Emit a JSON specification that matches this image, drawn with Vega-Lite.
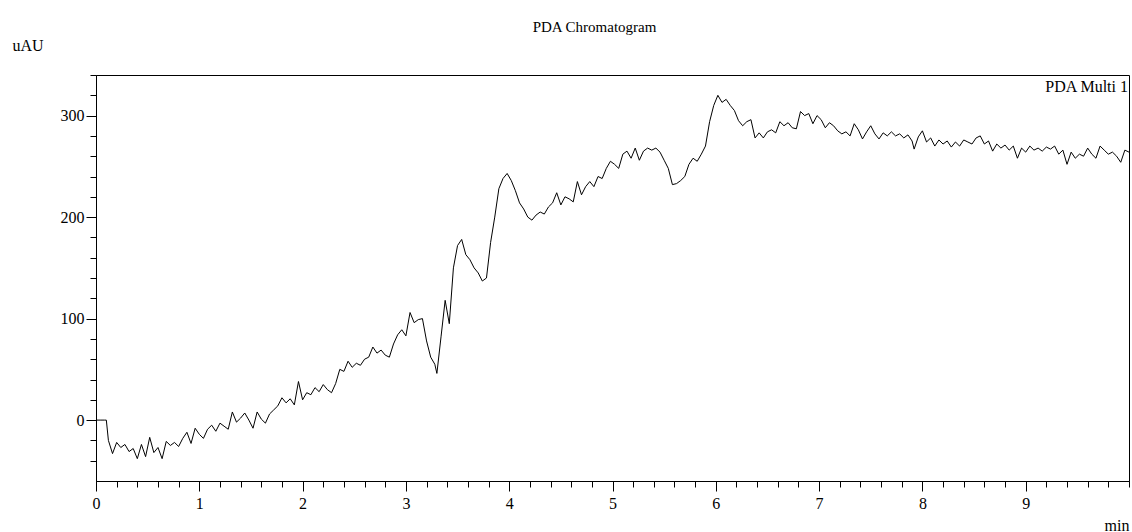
{
  "$schema": "https://vega.github.io/schema/vega-lite/v6.json",
  "width": 1033,
  "height": 406,
  "autosize": {"type": "none"},
  "padding": {"left": 96, "top": 75, "right": 3, "bottom": 51},
  "background": "white",
  "title": {"text": "PDA Chromatogram", "anchor": "middle", "offset": 2, "dx": -18, "font": "Liberation Serif, 'Times New Roman', serif", "fontSize": 15, "fontWeight": "normal", "color": "black"},
  "config": {
    "title": {"font": "Liberation Serif, 'Times New Roman', serif", "fontSize": 15, "fontWeight": "normal", "color": "black"},
    "style": {"group-title": {"font": "Liberation Serif, 'Times New Roman', serif", "fontWeight": "normal"}},
    "view": {"stroke": "black", "strokeWidth": 1},
    "axis": {"grid": false, "domainColor": "black", "tickColor": "black", "labelColor": "black", "titleColor": "black", "labelFont": "Liberation Serif", "titleFont": "Liberation Serif", "labelFontSize": 16, "titleFontSize": 16, "titleFontWeight": "normal"}
  },
  "layer": [
    {
      "data": {"values": [
        {"t":0,"v":0},{"t":0.04,"v":0},{"t":0.08,"v":0},{"t":0.1,"v":0},{"t":0.12,"v":-20},{"t":0.16,"v":-33},{"t":0.2,"v":-22},{"t":0.24,"v":-27},{"t":0.28,"v":-24},{"t":0.32,"v":-31},{"t":0.36,"v":-28},{"t":0.4,"v":-38},{"t":0.44,"v":-24},{"t":0.48,"v":-36},{"t":0.52,"v":-17},{"t":0.56,"v":-32},{"t":0.6,"v":-27},{"t":0.64,"v":-38},{"t":0.68,"v":-21},{"t":0.72,"v":-25},{"t":0.76,"v":-22},{"t":0.8,"v":-26},{"t":0.84,"v":-18},{"t":0.88,"v":-12},{"t":0.92,"v":-23},{"t":0.96,"v":-8},
        {"t":1,"v":-14},{"t":1.04,"v":-18},{"t":1.08,"v":-9},{"t":1.12,"v":-5},{"t":1.16,"v":-11},{"t":1.2,"v":-3},{"t":1.24,"v":-6},{"t":1.28,"v":-9},{"t":1.32,"v":8},{"t":1.36,"v":-2},{"t":1.4,"v":2},{"t":1.44,"v":7},{"t":1.48,"v":0},{"t":1.52,"v":-8},{"t":1.56,"v":8},{"t":1.6,"v":1},{"t":1.64,"v":-3},{"t":1.68,"v":6},{"t":1.72,"v":10},{"t":1.76,"v":14},{"t":1.8,"v":22},{"t":1.84,"v":17},{"t":1.88,"v":21},{"t":1.92,"v":15},{"t":1.96,"v":38},
        {"t":2,"v":20},{"t":2.04,"v":27},{"t":2.08,"v":25},{"t":2.12,"v":32},{"t":2.16,"v":28},{"t":2.2,"v":35},{"t":2.24,"v":30},{"t":2.28,"v":27},{"t":2.32,"v":36},{"t":2.36,"v":50},{"t":2.4,"v":48},{"t":2.44,"v":58},{"t":2.48,"v":52},{"t":2.52,"v":56},{"t":2.56,"v":54},{"t":2.6,"v":60},{"t":2.64,"v":62},{"t":2.68,"v":72},{"t":2.72,"v":66},{"t":2.76,"v":69},{"t":2.8,"v":64},{"t":2.84,"v":62},{"t":2.88,"v":75},{"t":2.92,"v":84},{"t":2.96,"v":89},
        {"t":3,"v":83},{"t":3.04,"v":106},{"t":3.08,"v":96},{"t":3.12,"v":99},{"t":3.16,"v":100},{"t":3.2,"v":78},{"t":3.24,"v":62},{"t":3.28,"v":55},{"t":3.3,"v":46},{"t":3.34,"v":82},{"t":3.38,"v":118},{"t":3.42,"v":95},{"t":3.46,"v":150},{"t":3.5,"v":172},{"t":3.54,"v":178},{"t":3.58,"v":163},{"t":3.62,"v":158},{"t":3.66,"v":150},{"t":3.7,"v":145},{"t":3.74,"v":137},{"t":3.78,"v":140},{"t":3.82,"v":175},{"t":3.86,"v":200},{"t":3.9,"v":228},{"t":3.94,"v":238},{"t":3.98,"v":243},
        {"t":4.02,"v":236},{"t":4.06,"v":226},{"t":4.1,"v":214},{"t":4.14,"v":208},{"t":4.18,"v":200},{"t":4.22,"v":197},{"t":4.26,"v":202},{"t":4.3,"v":205},{"t":4.34,"v":203},{"t":4.38,"v":210},{"t":4.42,"v":214},{"t":4.46,"v":224},{"t":4.5,"v":212},{"t":4.54,"v":220},{"t":4.58,"v":218},{"t":4.62,"v":215},{"t":4.66,"v":235},{"t":4.7,"v":222},{"t":4.74,"v":230},{"t":4.78,"v":235},{"t":4.82,"v":230},{"t":4.86,"v":240},{"t":4.9,"v":238},{"t":4.94,"v":248},{"t":4.98,"v":255},
        {"t":5.02,"v":252},{"t":5.06,"v":248},{"t":5.1,"v":262},{"t":5.14,"v":265},{"t":5.18,"v":258},{"t":5.22,"v":268},{"t":5.26,"v":256},{"t":5.3,"v":265},{"t":5.34,"v":268},{"t":5.38,"v":266},{"t":5.42,"v":268},{"t":5.46,"v":264},{"t":5.5,"v":256},{"t":5.54,"v":248},{"t":5.58,"v":232},{"t":5.62,"v":233},{"t":5.66,"v":236},{"t":5.7,"v":240},{"t":5.74,"v":252},{"t":5.78,"v":258},{"t":5.82,"v":255},{"t":5.86,"v":262},{"t":5.9,"v":270},{"t":5.94,"v":294},{"t":5.98,"v":310},
        {"t":6.02,"v":320},{"t":6.06,"v":313},{"t":6.1,"v":316},{"t":6.14,"v":310},{"t":6.18,"v":305},{"t":6.22,"v":295},{"t":6.26,"v":290},{"t":6.3,"v":294},{"t":6.34,"v":296},{"t":6.38,"v":278},{"t":6.42,"v":283},{"t":6.46,"v":278},{"t":6.5,"v":284},{"t":6.54,"v":286},{"t":6.58,"v":283},{"t":6.62,"v":294},{"t":6.66,"v":290},{"t":6.7,"v":293},{"t":6.74,"v":288},{"t":6.78,"v":287},{"t":6.82,"v":304},{"t":6.86,"v":300},{"t":6.9,"v":302},{"t":6.94,"v":292},{"t":6.98,"v":300},
        {"t":7.02,"v":296},{"t":7.06,"v":288},{"t":7.1,"v":293},{"t":7.14,"v":290},{"t":7.18,"v":285},{"t":7.22,"v":282},{"t":7.26,"v":284},{"t":7.3,"v":280},{"t":7.34,"v":292},{"t":7.38,"v":286},{"t":7.42,"v":277},{"t":7.46,"v":284},{"t":7.5,"v":290},{"t":7.54,"v":282},{"t":7.58,"v":277},{"t":7.62,"v":283},{"t":7.66,"v":280},{"t":7.7,"v":284},{"t":7.74,"v":280},{"t":7.78,"v":282},{"t":7.82,"v":278},{"t":7.86,"v":281},{"t":7.9,"v":275},{"t":7.92,"v":267},{"t":7.96,"v":279},
        {"t":8,"v":285},{"t":8.04,"v":274},{"t":8.08,"v":278},{"t":8.12,"v":270},{"t":8.16,"v":276},{"t":8.2,"v":272},{"t":8.24,"v":275},{"t":8.28,"v":269},{"t":8.32,"v":274},{"t":8.36,"v":270},{"t":8.4,"v":276},{"t":8.44,"v":274},{"t":8.48,"v":272},{"t":8.52,"v":278},{"t":8.56,"v":280},{"t":8.6,"v":272},{"t":8.64,"v":275},{"t":8.68,"v":265},{"t":8.72,"v":272},{"t":8.76,"v":268},{"t":8.8,"v":271},{"t":8.84,"v":266},{"t":8.88,"v":270},{"t":8.92,"v":258},{"t":8.96,"v":268},
        {"t":9,"v":264},{"t":9.04,"v":270},{"t":9.08,"v":266},{"t":9.12,"v":268},{"t":9.16,"v":265},{"t":9.2,"v":269},{"t":9.24,"v":267},{"t":9.28,"v":270},{"t":9.32,"v":262},{"t":9.36,"v":266},{"t":9.4,"v":252},{"t":9.44,"v":264},{"t":9.48,"v":258},{"t":9.52,"v":262},{"t":9.56,"v":260},{"t":9.6,"v":268},{"t":9.64,"v":262},{"t":9.68,"v":258},{"t":9.72,"v":270},{"t":9.76,"v":266},{"t":9.8,"v":262},{"t":9.84,"v":264},{"t":9.88,"v":260},{"t":9.92,"v":254},{"t":9.96,"v":266},{"t":10,"v":264}
      ]},
      "mark": {"type": "line", "color": "black", "strokeWidth": 1, "clip": true},
      "encoding": {
        "x": {"field": "t", "type": "quantitative", "scale": {"domain": [0, 10], "nice": false, "zero": false},
          "axis": {"orient": "bottom", "tickCount": 200,
            "values": [0,0.2,0.4,0.6,0.8,1,1.2,1.4,1.6,1.8,2,2.2,2.4,2.6,2.8,3,3.2,3.4,3.6,3.8,4,4.2,4.4,4.6,4.8,5,5.2,5.4,5.6,5.8,6,6.2,6.4,6.6,6.8,7,7.2,7.4,7.6,7.8,8,8.2,8.4,8.6,8.8,9,9.2,9.4,9.6,9.8,10],
            "labelExpr": "abs(datum.value - round(datum.value)) < 0.001 && datum.value < 9.5 ? format(datum.value, 'd') : ''",
            "tickSize": {"condition": {"test": "abs(datum.value - round(datum.value)) < 0.001 && datum.value < 9.5", "value": 10}, "value": 6},
            "labelPadding": 4, "labelOverlap": false, "labelFlush": false, "labelBound": false,
            "title": "min", "titleX": 1033, "titleY": 49, "titleAlign": "right", "titleBaseline": "alphabetic", "titleAnchor": null}},
        "y": {"field": "v", "type": "quantitative", "scale": {"domain": [-60, 340], "nice": false, "zero": false},
          "axis": {"orient": "left", "tickCount": 200,
            "values": [-40,-20,0,20,40,60,80,100,120,140,160,180,200,220,240,260,280,300,320,340],
            "labelExpr": "datum.value % 100 === 0 ? format(datum.value, 'd') : ''",
            "tickSize": {"condition": {"test": "datum.value % 100 === 0", "value": 10}, "value": 6},
            "labelPadding": 2, "labelOverlap": false, "labelFlush": false, "labelBound": false,
            "title": "uAU", "titleAngle": 0, "titleX": -84, "titleY": -25, "titleAlign": "left", "titleBaseline": "alphabetic", "titleAnchor": null}}
      }
    },
    {
      "data": {"values": [{"label": "PDA Multi 1"}]},
      "mark": {"type": "text", "font": "Liberation Serif", "fontSize": 16, "align": "right", "baseline": "alphabetic", "dx": -1, "dy": 17, "color": "black"},
      "encoding": {"text": {"field": "label"}, "x": {"datum": 10, "type": "quantitative"}, "y": {"datum": 340, "type": "quantitative"}}
    }
  ]
}
